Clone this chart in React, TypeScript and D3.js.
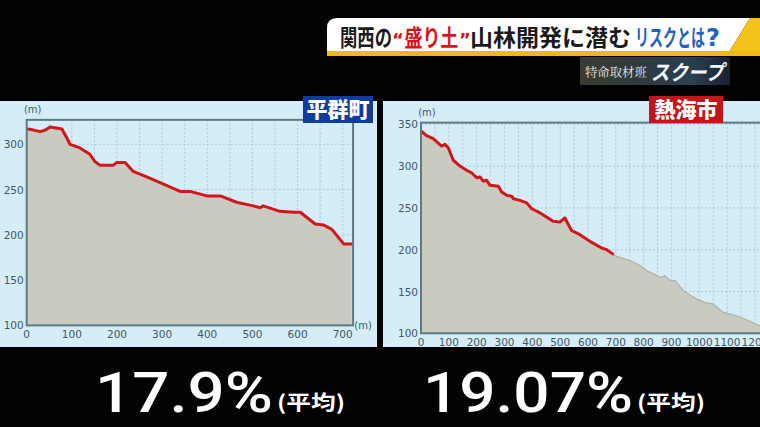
import React from "react";
import * as d3 from "d3";

const W = 760;
const H = 427;

// 平群町 profile: [distance m, elevation m]
const heguriDist = [0, 7, 30, 40, 52, 78, 89, 96, 118, 140, 151, 162, 192, 200, 218, 236, 266, 303, 340, 362, 399, 429, 465, 502, 517, 524, 561, 591, 606, 639, 657, 676, 702, 720];
const heguriElev = [317, 316.6, 314, 315.5, 319, 317, 307, 300, 296, 289, 281, 277, 277, 280, 280, 270, 264, 256, 248, 248, 243, 243, 236, 232, 230, 232, 226, 225, 225, 212, 211, 206, 190, 190];

// 熱海市 profile: red part
const atamiDist = [0, 20, 44, 74, 86, 98, 116, 140, 164, 182, 200, 212, 224, 236, 248, 278, 290, 308, 326, 332, 356, 380, 398, 428, 475, 499, 517, 541, 571, 607, 649, 667, 689];
const atamiElev = [342, 336.4, 333, 324, 326, 322, 307, 300, 295, 292, 286, 287, 282, 283, 277, 276, 269, 265, 264, 261, 259, 256, 249, 244, 234, 233, 238, 223, 218, 210, 202, 200, 195];
// 熱海市 profile continuation (grey only)
const atamiRestDist = [689, 703, 751, 787, 811, 859, 877, 895, 913, 943, 990, 1020, 1050, 1086, 1134, 1170, 1218, 1260];
const atamiRestElev = [195, 192, 187, 181, 175, 167, 169, 163, 163, 151, 141, 137, 135, 125, 121, 116, 109, 105];

const heguriXTicks = [0, 100, 200, 300, 400, 500, 600, 700];
const atamiXTicks = [0, 100, 200, 300, 400, 500, 600, 700, 800, 900, 1000, 1100, 1200];
const heguriYTicks = [100, 150, 200, 250, 300];
const atamiYTicks = [100, 150, 200, 250, 300, 350];

// title segments
const titleParts = ["関西の", "“", "盛り土", "”", "山林開発に潜む", "リスクとは", "?"];
const titleColors = ["#1a1a1a", "#d8141b", "#d8141b", "#d8141b", "#1a1a1a", "#1f62c4", "#1f62c4"];
const titleLatin = [false, true, false, true, false, false, true];

const BG = "#d5edf7";
const GRID = "#a9c9d6";
const BORDER = "#5d7a84";
const FILL = "#c8c8bd";
const RED = "#d3161c";
const TICK = "#3e5868";

type P = [number, number];
const zip = (a: number[], b: number[]): P[] => a.map((v, i) => [v, b[i]]);

function Profile(props: {
  x: d3.ScaleLinear<number, number>;
  y: d3.ScaleLinear<number, number>;
  xDomainEnd: number;
  yTop: number;
  xTicks: number[];
  yTicks: number[];
  red: P[];
  rest: P[];
  clipId: string;
  clipW: number;
  rightUnit: boolean;
}) {
  const { x, y, xDomainEnd, yTop, xTicks, yTicks, red, rest, clipId, clipW, rightUnit } = props;
  const x0 = x(0);
  const x1 = x(xDomainEnd);
  const yB = y(100);
  const yT = y(yTop);
  const all = rest.length ? red.concat(rest.slice(1)) : red;
  const area = d3
    .area<P>()
    .x((d) => x(d[0]))
    .y0(yB)
    .y1((d) => y(d[1]));
  const line = d3
    .line<P>()
    .x((d) => x(d[0]))
    .y((d) => y(d[1]));
  const vGrid = d3.range(0, xDomainEnd + 1, 50);
  const hGrid = d3.range(100, yTop + 1, 50);
  return (
    <g>
      <defs>
        <clipPath id={clipId}>
          <rect x={x0} y={yT} width={Math.min(x1, clipW) - x0} height={yB - yT} />
        </clipPath>
      </defs>
      <g clipPath={`url(#${clipId})`}>
        {vGrid.map((v) => (
          <line key={"v" + v} x1={x(v)} x2={x(v)} y1={yT} y2={yB} stroke={GRID} strokeWidth={1} strokeDasharray="2,2" />
        ))}
        {hGrid.map((v) => (
          <line key={"h" + v} x1={x0} x2={x1} y1={y(v)} y2={y(v)} stroke={GRID} strokeWidth={1} strokeDasharray="2,2" />
        ))}
        <path d={area(all) || ""} fill={FILL} opacity={0.95} />
        {rest.length > 0 && <path d={line(rest) || ""} fill="none" stroke="#b0b0a4" strokeWidth={1.2} />}
        <path d={line(red) || ""} fill="none" stroke={RED} strokeWidth={3} strokeLinejoin="round" strokeLinecap="round" />
      </g>
      <rect x={x0} y={yT} width={x1 - x0} height={yB - yT} fill="none" stroke={BORDER} strokeWidth={2} />
      {yTicks.map((v) => (
        <text key={"yt" + v} x={x0 - 3} y={y(v) + 4} textAnchor="end" fontSize={10.5} fill={TICK} fontFamily="DejaVu Sans, sans-serif">
          {v}
        </text>
      ))}
      {xTicks.map((v) => (
        <text key={"xt" + v} x={x(v)} y={yB + 13} textAnchor="middle" fontSize={10.5} fill={TICK} fontFamily="DejaVu Sans, sans-serif">
          {v}
        </text>
      ))}
      <text x={x0 + 6} y={yT - 7} textAnchor="middle" fontSize={10} fill={TICK} fontFamily="DejaVu Sans, sans-serif">
        (m)
      </text>
      {rightUnit && (
        <text x={x1 + 10} y={yB + 4} textAnchor="middle" fontSize={10} fill={TICK} fontFamily="DejaVu Sans, sans-serif">
          (m)
        </text>
      )}
    </g>
  );
}

export default function App() {
  const xL = d3.scaleLinear().domain([0, 700]).range([26.7, 342.7]);
  const yL = d3.scaleLinear().domain([100, 300]).range([325.4, 144.3]);
  const xR = d3.scaleLinear().domain([0, 1000]).range([421, 699.3]);
  const yR = d3.scaleLinear().domain([100, 350]).range([333.3, 124.3]);

  // title segment placement: start x and horizontal scale
  const titleX = [340, 392, 404.5, 459, 470, 635, 706];
  const titleSx = [0.754, 1, 0.78, 1, 1.0, 0.61, 1];

  return (
    <svg
      width={W}
      height={H}
      viewBox={`0 0 ${W} ${H}`}
      style={{ position: "absolute", left: 0, top: 0, display: "block" }}
    >
      <defs>
        <linearGradient id="subBg" x1="0" x2="1" y1="0" y2="0">
          <stop offset="0" stopColor="#3a3c30" />
          <stop offset="0.4" stopColor="#2e3a3e" />
          <stop offset="0.75" stopColor="#2a4050" />
          <stop offset="1" stopColor="#1a2230" />
        </linearGradient>
      </defs>
      <rect x={0} y={0} width={W} height={H} fill="#030303" />

      {/* Banner */}
      <path d="M 337 18 L 750 18 L 729 52 L 327 52 L 327 28 Q 327 18 337 18 Z" fill="#ffffff" />
      <path d="M 750 18 L 760 18 L 760 52 L 729 52 Z" fill="#f5c21a" />
      <rect x={327} y={51} width={433} height={5} fill="#f2b811" />
      {titleParts.map((t, i) => (
        <g key={i} transform={`translate(${titleX[i]},46) scale(${titleSx[i]},1)`}>
          <text
            x={0}
            y={0}
            fontSize={titleLatin[i] ? (i === 6 ? 24 : 18) : 23}
            fontWeight={700}
            fill={titleColors[i]}
            fontFamily={titleLatin[i] ? "'DejaVu Sans', sans-serif" : "'Noto Sans CJK JP', sans-serif"}
          >
            {t}
          </text>
        </g>
      ))}

      {/* Sub-title box */}
      <rect x={580} y={57} width={150} height={28} fill="url(#subBg)" />
      <g transform="translate(585,77) scale(1.03,1)">
        <text x={0} y={0} fontSize={12} fill="#e8e8e8" fontFamily="'Noto Serif CJK JP', 'Noto Sans CJK JP', serif">
          特命取材班
        </text>
      </g>
      <g transform="translate(651,80) scale(0.88,1)">
        <text x={0} y={0} fontSize={21} fontWeight={700} fontStyle="italic" fill="#f4f6ff" fontFamily="'Noto Sans CJK JP', sans-serif">
          スクープ
        </text>
      </g>

      {/* Panels */}
      <rect x={0} y={101} width={377} height={246} fill={BG} />
      <rect x={383} y={101} width={377} height={246} fill={BG} />

      <Profile
        x={xL}
        y={yL}
        xDomainEnd={723}
        yTop={327}
        xTicks={heguriXTicks}
        yTicks={heguriYTicks}
        red={zip(heguriDist, heguriElev)}
        rest={[]}
        clipId="clipL"
        clipW={W}
        rightUnit={true}
      />
      <Profile
        x={xR}
        y={yR}
        xDomainEnd={1260}
        yTop={352}
        xTicks={atamiXTicks}
        yTicks={atamiYTicks}
        red={zip(atamiDist, atamiElev)}
        rest={zip(atamiRestDist, atamiRestElev)}
        clipId="clipR"
        clipW={W}
        rightUnit={false}
      />

      {/* Place labels */}
      <rect x={303} y={96} width={70} height={27} fill="#123c9c" />
      <text x={338} y={117} textAnchor="middle" fontSize={21} fontWeight={900} fill="#ffffff" fontFamily="'Noto Sans CJK JP', sans-serif">
        平群町
      </text>
      <rect x={649} y={96} width={74} height={27} fill="#c0161c" />
      <text x={686} y={117} textAnchor="middle" fontSize={21} fontWeight={900} fill="#ffffff" fontFamily="'Noto Sans CJK JP', sans-serif">
        熱海市
      </text>

      {/* Bottom values */}
      <text x={95} y={412} fontSize={56} fill="#ffffff" fontFamily="Roboto, sans-serif" fontWeight={500} textLength={178} lengthAdjust="spacingAndGlyphs">
        17.9%
      </text>
      <text x={277} y={410} fontSize={20} fontWeight={700} fill="#ffffff" fontFamily="'Noto Sans CJK JP', sans-serif" textLength={68} lengthAdjust="spacingAndGlyphs">
        (平均)
      </text>
      <text x={423} y={412} fontSize={56} fill="#ffffff" fontFamily="Roboto, sans-serif" fontWeight={500} textLength={210} lengthAdjust="spacingAndGlyphs">
        19.07%
      </text>
      <text x={637} y={410} fontSize={20} fontWeight={700} fill="#ffffff" fontFamily="'Noto Sans CJK JP', sans-serif" textLength={68} lengthAdjust="spacingAndGlyphs">
        (平均)
      </text>
    </svg>
  );
}
